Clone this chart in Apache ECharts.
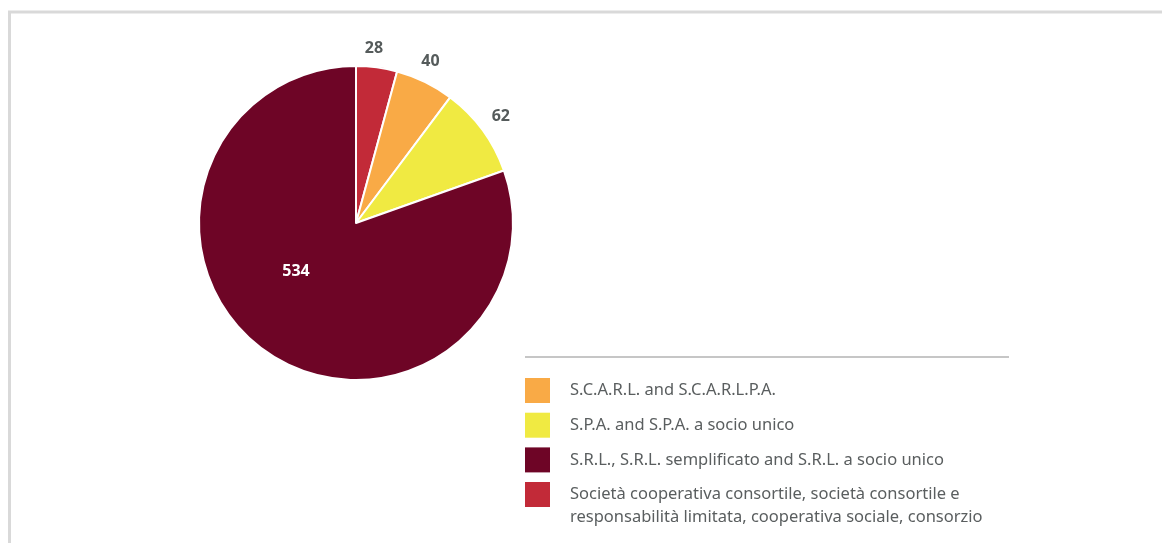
<!DOCTYPE html>
<html>
<head>
<meta charset="utf-8">
<style>
  html, body { margin: 0; padding: 0; background: #fff; }
  #chart { width: 1162px; height: 543px; }
</style>
<script src="https://cdn.jsdelivr.net/npm/echarts@6/dist/echarts.min.js"></script>
</head>
<body>
<div id="chart"></div>
<script>
// Company legal forms, counted
const categories = [
  'Società cooperativa consortile, società consortile e\nresponsabilità limitata, cooperativa sociale, consorzio',
  'S.C.A.R.L. and S.C.A.R.L.P.A.',
  'S.P.A. and S.P.A. a socio unico',
  'S.R.L., S.R.L. semplificato and S.R.L. a socio unico'
];
const values = [28, 40, 62, 534];
const colors = ['#c22a38', '#f9aa46', '#f0ea42', '#6e0526'];
// legend lists the forms in this order; the two-line entry gets its own block
const legendSingleLine = [1, 2, 3];
const legendMultiLine = [0];
// small nudges for the value labels outside the rim
const outerLabelOffsets = [[-6, 5], [-5, 1], [-1, 1]];

const FONT = '"Noto Sans", "Open Sans", sans-serif';
const chart = echarts.init(document.getElementById('chart'), null, { renderer: 'canvas' });

const pieData = categories.map((name, i) => ({
  name, value: values[i], itemStyle: { color: colors[i] }
}));

const legendBase = {
  orient: 'vertical',
  left: 525,
  padding: 0,
  itemWidth: 25,
  itemHeight: 25,
  itemGap: 9.7,
  icon: 'rect',
  selectedMode: false,
  itemStyle: { borderWidth: 0 },
  textStyle: { fontFamily: FONT, fontSize: 16.5, color: '#5a5e5f', padding: [0, 0, 0, 15], lineHeight: 23 }
};

chart.setOption({
  animation: false,
  color: colors,
  graphic: [
    { type: 'polyline', silent: true,
      shape: { points: [[9.5, 543], [9.5, 12], [1162, 12]] },
      style: { stroke: '#d9d9d9', lineWidth: 3, fill: null } },
    { type: 'line', silent: true,
      shape: { x1: 525, y1: 357, x2: 1009, y2: 357 },
      style: { stroke: '#b3b3b3', lineWidth: 1.5 } }
  ],
  legend: [
    Object.assign({}, legendBase, {
      top: 378,
      data: legendSingleLine.map(i => categories[i])
    }),
    Object.assign({}, legendBase, {
      // an empty leading line keeps the first text line level with the swatch
      top: 460,
      formatter: name => '\n' + name,
      data: legendMultiLine.map(i => categories[i])
    })
  ],
  series: [
    {
      type: 'pie',
      center: [356, 223],
      radius: [0, 157],
      startAngle: 90,
      clockwise: true,
      itemStyle: { borderColor: '#fff', borderWidth: 2 },
      label: { show: false },
      labelLine: { show: false },
      emphasis: { disabled: true },
      data: pieData.map((d, i) => i === 3 ? Object.assign({}, d, {
        label: { show: true, position: 'inside', offset: [-13, -18],
          color: '#fff', fontWeight: 'bold', fontSize: 16, fontFamily: FONT,
          formatter: '{c}' }
      }) : d)
    },
    {
      // value labels for the narrow slices, just outside the rim
      type: 'pie',
      center: [356, 223],
      radius: [168, 188],
      startAngle: 90,
      clockwise: true,
      silent: true,
      itemStyle: { color: 'rgba(0,0,0,0)' },
      labelLine: { show: false },
      label: { show: true, position: 'inside', color: '#555b5b', fontWeight: 'bold',
        fontSize: 16, fontFamily: FONT, formatter: '{c}' },
      data: pieData.map((d, i) => ({
        name: d.name, value: d.value,
        itemStyle: { color: 'rgba(0,0,0,0)' },
        label: { show: i < 3, offset: outerLabelOffsets[i] || [0, 0] }
      }))
    }
  ]
});
</script>
</body>
</html>
